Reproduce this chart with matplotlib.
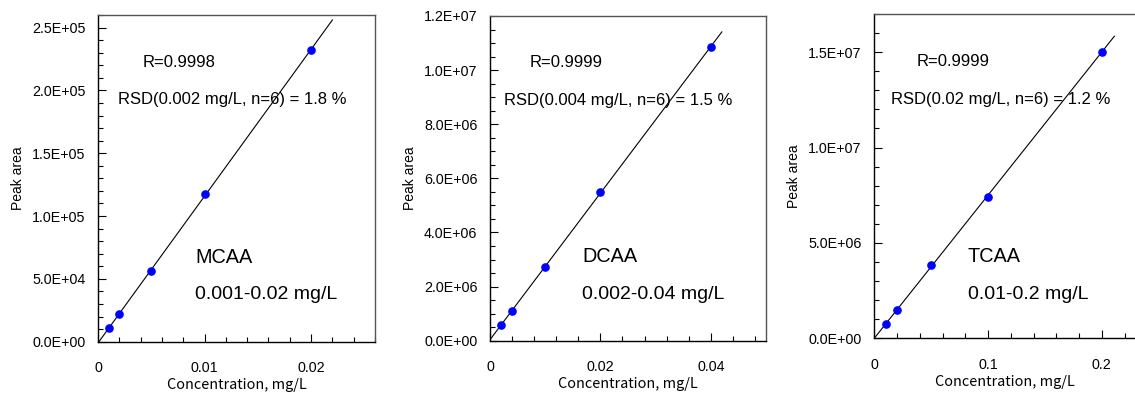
import numpy as np
import matplotlib
matplotlib.use("Agg")
import matplotlib.pyplot as plt
from matplotlib.ticker import MultipleLocator, FuncFormatter

plt.rcParams['font.family'] = ['Liberation Sans', 'DejaVu Sans']

# ---- data ----
names = ["MCAA", "DCAA", "TCAA"]
ranges = ["0.001-0.02 mg/L", "0.002-0.04 mg/L", "0.01-0.2 mg/L"]
r_texts = ["R=0.9998", "R=0.9999", "R=0.9999"]
rsd_texts = ["RSD(0.002 mg/L, n=6) = 1.8 %",
             "RSD(0.004 mg/L, n=6) = 1.5 %",
             "RSD(0.02 mg/L, n=6) = 1.2 %"]

conc_mcaa = [0.001, 0.002, 0.005, 0.01, 0.02]
area_mcaa = [1.07e4, 2.19e4, 5.66e4, 1.176e5, 2.32e5]
conc_dcaa = [0.002, 0.004, 0.01, 0.02, 0.04]
area_dcaa = [5.8e5, 1.11e6, 2.72e6, 5.51e6, 1.085e7]
conc_tcaa = [0.01, 0.02, 0.05, 0.1, 0.2]
area_tcaa = [7.5e5, 1.48e6, 3.84e6, 7.43e6, 1.503e7]

line_end = [0.022, 0.042, 0.211]
xlims = [0.026, 0.05, 0.23]
ylims = [2.6e5, 1.2e7, 1.7e7]
x_major = [0.01, 0.02, 0.1]
x_minor = [0.002, 0.004, 0.02]
y_major = [5e4, 2e6, 5e6]
y_minor = [1e4, 5e5, 1e6]

concs = [conc_mcaa, conc_dcaa, conc_tcaa]
areas = [area_mcaa, area_dcaa, area_tcaa]

W, H = 1135, 394
fig = plt.figure(figsize=(W / 100, H / 100), dpi=100)

# axes boxes in pixels: left, top, right, bottom
boxes = [(98, 15, 375, 341.7), (490, 16, 766, 340.7), (874.3, 14, 1136, 338.3)]
# text positions (axes fraction)
r_pos = [(0.162, 0.856), (0.145, 0.858), (0.162, 0.852)]
rsd_pos = [(0.072, 0.740), (0.051, 0.741), (0.063, 0.735)]
name_pos = [(0.350, 0.259), (0.333, 0.258), (0.358, 0.251)]
range_pos = [(0.350, 0.143), (0.333, 0.141), (0.358, 0.134)]


def xfmt(v, pos):
    if abs(v) < 1e-12:
        return "0"
    return "%g" % v


def yfmt(v, pos):
    return "%.1E" % v


for i in range(3):
    l, t, r, b = boxes[i]
    ax = fig.add_axes([l / W, (H - b) / H, (r - l) / W, (b - t) / H])
    x = np.array(concs[i])
    y = np.array(areas[i])
    slope, icpt = np.polyfit(x, y, 1)
    xx = np.array([0.0, line_end[i]])
    ax.plot(xx, slope * xx + icpt, color='black', lw=0.8, zorder=2)
    ax.plot(x, y, 'o', color='#0000ff', ms=5.2, mec='#0000ff', zorder=3)
    ax.set_xlim(0, xlims[i])
    ax.set_ylim(0, ylims[i])
    ax.xaxis.set_major_locator(MultipleLocator(x_major[i]))
    ax.xaxis.set_minor_locator(MultipleLocator(x_minor[i]))
    ax.yaxis.set_major_locator(MultipleLocator(y_major[i]))
    ax.yaxis.set_minor_locator(MultipleLocator(y_minor[i]))
    ax.xaxis.set_major_formatter(FuncFormatter(xfmt))
    ax.yaxis.set_major_formatter(FuncFormatter(yfmt))
    ax.tick_params(which='both', direction='in', labelsize=10.3, color='black')
    ax.tick_params(which='major', length=6, width=0.8)
    ax.tick_params(which='minor', length=3.5, width=0.8)
    ax.tick_params(axis='x', which='major', pad=14)
    ax.tick_params(axis='y', which='major', pad=9)
    for s in ax.spines.values():
        s.set_linewidth(1.0)
    ax.spines['top'].set_color('#555555')
    ax.spines['right'].set_color('#555555')
    ax.set_xlabel("Concentration, mg/L", fontsize=10.4,
                  family=['Noto Sans CJK JP', 'DejaVu Sans'], labelpad=2)
    ax.set_ylabel("Peak area", fontsize=10, labelpad=5)
    ax.text(*r_pos[i], r_texts[i], transform=ax.transAxes, fontsize=12,
            va='center', ha='left')
    ax.text(*rsd_pos[i], rsd_texts[i], transform=ax.transAxes, fontsize=12,
            va='center', ha='left')
    ax.text(*name_pos[i], names[i], transform=ax.transAxes, fontsize=14.3,
            va='center', ha='left')
    ax.text(*range_pos[i], ranges[i], transform=ax.transAxes, fontsize=14,
            va='center', ha='left')

fig.savefig("out.png", dpi=100)
